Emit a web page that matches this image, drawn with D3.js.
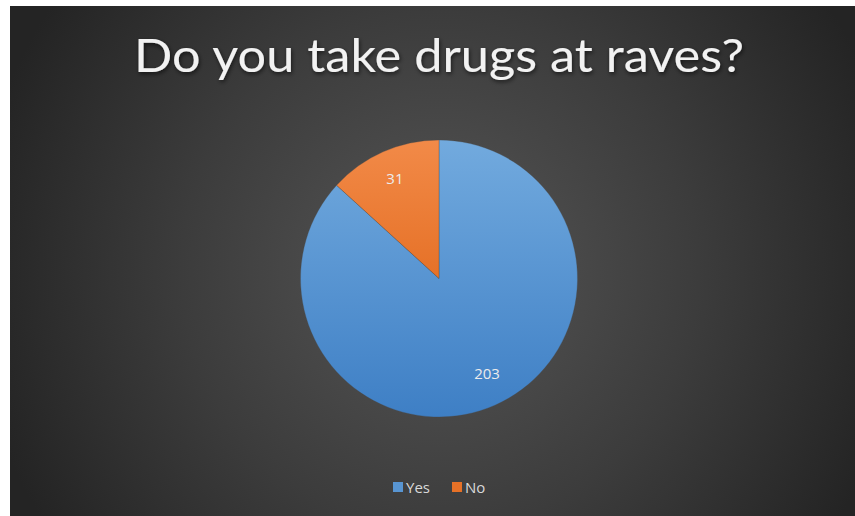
<!DOCTYPE html>
<html>
<head>
<meta charset="utf-8">
<script src="https://cdn.jsdelivr.net/npm/d3@7"></script>
<style>
  html, body { margin: 0; padding: 0; background: #fff; }
  svg { display: block; }
</style>
</head>
<body>
<script>
// chart data
const categories = ["Yes", "No"];
const values = [203, 31];
const colorTop = ["#72aade", "#f28a48"];
const colorBottom = ["#3e7fc5", "#d95806"];
const title = "Do you take drugs at raves?";

const W = 855, H = 516;
const frame = {x: 10, y: 6, w: 845, h: 510};
const cx = 439, cy = 278.5, R = 138.5;

const svg = d3.select("body").append("svg")
  .attr("width", W)
  .attr("height", H);

const defs = svg.append("defs");

const bg = defs.append("radialGradient")
  .attr("id", "bg")
  .attr("gradientUnits", "userSpaceOnUse")
  .attr("cx", 440).attr("cy", 270).attr("r", 470);
bg.append("stop").attr("offset", "0").attr("stop-color", "#565656");
bg.append("stop").attr("offset", "0.55").attr("stop-color", "#3c3c3c");
bg.append("stop").attr("offset", "1").attr("stop-color", "#242424");

// gradients in the pie group's own coordinates (centre at 0,0)
categories.forEach((c, i) => {
  const g = defs.append("linearGradient")
    .attr("id", "slice" + i)
    .attr("gradientUnits", "userSpaceOnUse")
    .attr("x1", 0).attr("y1", -R).attr("x2", 0).attr("y2", R);
  g.append("stop").attr("offset", "0").attr("stop-color", colorTop[i]);
  g.append("stop").attr("offset", "1").attr("stop-color", colorBottom[i]);
});

const shadow = defs.append("filter").attr("id", "tshadow")
  .attr("x", "-10%").attr("y", "-30%").attr("width", "120%").attr("height", "160%");
shadow.append("feDropShadow")
  .attr("dx", 1).attr("dy", 2).attr("stdDeviation", 2)
  .attr("flood-color", "#000").attr("flood-opacity", 0.6);

svg.append("rect")
  .attr("x", frame.x).attr("y", frame.y)
  .attr("width", frame.w).attr("height", frame.h)
  .attr("fill", "url(#bg)");

svg.append("text")
  .attr("x", cx).attr("y", 72)
  .attr("text-anchor", "middle")
  .attr("font-family", "Lato, 'Open Sans', sans-serif")
  .attr("font-size", 46)
  .attr("fill", "#f2f2f2")
  .attr("textLength", 610)
  .attr("lengthAdjust", "spacingAndGlyphs")
  .attr("filter", "url(#tshadow)")
  .text(title);

const pie = d3.pie().sort(null).value(d => d);
const arcs = pie(values);
const arc = d3.arc().innerRadius(0).outerRadius(R);
const labelArc = d3.arc().innerRadius(109).outerRadius(109);

const g = svg.append("g").attr("transform", `translate(${cx},${cy})`);

g.selectAll("path.slice")
  .data(arcs)
  .join("path")
  .attr("class", "slice")
  .attr("d", arc)
  .attr("fill", (d, i) => `url(#slice${i})`)
  .attr("stroke", "rgba(70,70,70,0.5)")
  .attr("stroke-width", 0.6);

g.selectAll("text.lbl")
  .data(arcs)
  .join("text")
  .attr("class", "lbl")
  .attr("transform", d => {
    const [x, y] = labelArc.centroid(d);
    return `translate(${x + (d.index === 0 ? 4 : 0)},${y - (d.index === 0 ? 4 : 0)})`;
  })
  .attr("text-anchor", "middle")
  .attr("dy", "0.35em")
  .attr("font-family", "'Open Sans', 'Noto Sans', sans-serif")
  .attr("font-size", 15)
  .attr("fill", "#ececec")
  .text(d => d.data);

// legend
const legend = svg.append("g").attr("transform", "translate(393,482)");
const legX = [0, 59];
const item = legend.selectAll("g")
  .data(categories)
  .join("g")
  .attr("transform", (d, i) => `translate(${legX[i]},0)`);
item.append("rect")
  .attr("width", 10).attr("height", 10)
  .attr("fill", (d, i) => d3.interpolateRgb(colorTop[i], colorBottom[i])(0.5));
item.append("text")
  .attr("x", 13).attr("y", 11)
  .attr("font-family", "'Open Sans', 'Noto Sans', sans-serif")
  .attr("font-size", 15)
  .attr("fill", "#d9d9d9")
  .text(d => d);
</script>
</body>
</html>
